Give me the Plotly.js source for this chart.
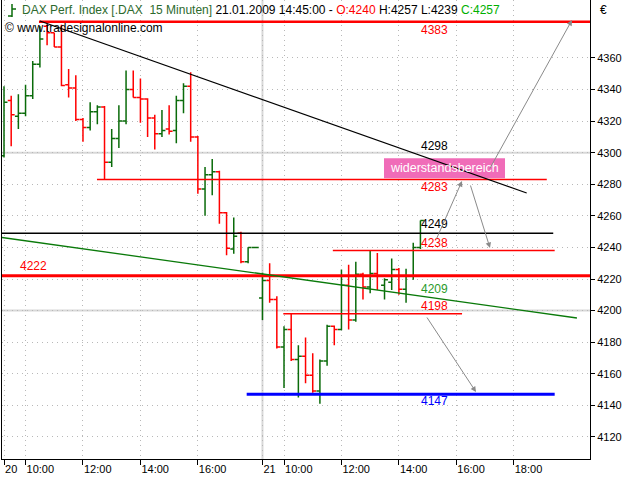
<!DOCTYPE html>
<html><head><meta charset="utf-8">
<script src="https://cdn.plot.ly/plotly-3.0.1.min.js"></script>
<style>html,body{margin:0;padding:0;background:#fff}#chart{width:640px;height:480px}</style>
</head><body><div id="chart"></div>
<script>
// ---- data (15-minute bars, 20.01.2009 09:15 ... 21.01.2009 14:45) ----
const openP  = [4298,4333,4323,4325,4336,4356,4380,4376,4367,4343,4341,4321,4316,4326,4329,4294,4309,4320,4340,4335,4334,4322,4312,4315,4314,4333,4342,4310,4277,4286,4288,4262,4239,4249,4231,4240,
                4208,4219,4207,4177,4188,4169,4171,4159,4149,4168,4190,4188,4216,4194,4223,4215,4223.5,4216,4218,4226,4213.5,4222,4240];
const highP  = [4342,4336,4337,4343,4358,4380,4381,4376,4381,4353,4349,4322,4332,4330,4329.5,4315,4330,4352,4352,4347,4334.5,4324,4327,4330,4336,4344,4351,4310.5,4291,4296,4288.5,4262.5,4259,4250,4240,4240,
                4224,4230,4209,4190,4198,4178,4183,4173,4169,4191,4190.5,4226,4229,4231,4224,4238,4236.5,4220.5,4233,4227,4226.5,4243,4257];
const lowP   = [4297,4304,4315,4323,4334,4354,4368,4367,4342,4335,4320,4307,4314,4318,4283,4291,4303,4318,4335,4319,4310,4302,4310,4311.5,4306,4325,4307,4274,4260,4273,4255,4235,4236,4230,4230,4240,
                4194,4205,4176,4151,4168,4145,4154,4148,4141,4165,4178,4187.5,4188,4193,4207,4211,4213,4207,4213,4210,4205,4219.5,4239];
const closeP = [4332,4324,4325,4336,4356,4372,4376,4367,4342.5,4341,4321,4316,4326,4329,4294,4309,4320,4340,4335,4334,4322,4312,4314,4313.5,4333,4342,4310,4277,4286,4288,4262,4239.5,4247,4231,4240,4240,
                4219,4207,4177,4188,4169,4171,4159,4149,4168,4190,4188,4216,4194,4223,4215,4223.5,4222,4219.5,4226,4213.5,4222,4240,4257];
const barIndex = openP.map((_, i) => i);

const tickVals = [0, 3, 11, 19, 27, 36, 39, 47, 55, 63, 71];
const tickText = ['20', '10:00', '12:00', '14:00', '16:00', '21', '10:00', '12:00', '14:00', '16:00', '18:00'];
const priceTicks = [4120, 4140, 4160, 4180, 4200, 4220, 4240, 4260, 4280, 4300, 4320, 4340, 4360];

// horizontal support / resistance levels
const levelPrice = [4383, 4283, 4249, 4238, 4222, 4198, 4147];
const levelColor = ['#ff0000', '#ff0000', '#000000', '#ff0000', '#ff0000', '#ff0000', '#0000ff'];
// trend lines (start / end price) and their label values
const blackTrend = [4383.4, 4274.5];
const greenTrend = [4246.3, 4195.3];
const trendLabels = ['4298', '4209'];
const boxText = 'widerstandsbereich';

// ---- layout helpers ----
const GREEN = '#0a6b0a', RED = '#ff0000';
const PL = 2, PR = 590, PT = 0, PB = 459;
const XR = [-0.28, 81.62], YR = [4106.0, 4396.7];
const px2k = x => XR[0] + (x - PL) / (PR - PL) * (XR[1] - XR[0]);
const py2v = y => YR[1] - (y - PT) / (PB - PT) * (YR[1] - YR[0]);
const px2p = x => (x - PL) / (PR - PL);
const py2p = y => 1 - (y - PT) / (PB - PT);
const FONT = 'Arial, "Liberation Sans", sans-serif';

const trace = {
  type: 'ohlc', x: barIndex, open: openP, high: highP, low: lowP, close: closeP,
  tickwidth: 0.48,
  increasing: {line: {color: GREEN, width: 1.5}},
  decreasing: {line: {color: RED, width: 1.5}},
  hoverinfo: 'skip'
};

// level extents in bar-index units
const levelSpan = [[4.87, XR[1]], [12.95, 75.6], [XR[0], 76.5], [45.8, 76.7], [XR[0], XR[1]], [38.9, 63.8], [33.8, 76.7]];
const levelWidth = [2.5, 1.5, 1.5, 1.5, 3, 1.5, 3];

const shapes = [];
// solid grid lines
[4200, 4300].forEach(v => shapes.push({type: 'line', xref: 'paper', yref: 'y', x0: 0, x1: 1, y0: v, y1: v, layer: 'below', line: {color: '#d8d8d8', width: 2}}));
shapes.push({type: 'line', xref: 'x', yref: 'paper', x0: 36, x1: 36, y0: 0, y1: 1, layer: 'below', line: {color: '#d8d8d8', width: 2}});
// pink box
shapes.push({type: 'rect', xref: 'x', yref: 'y', x0: px2k(384), x1: px2k(505), y0: py2v(178.3), y1: py2v(158.3), line: {width: 0}, fillcolor: '#f06cb8', layer: 'above'});
levelPrice.forEach((v, i) => shapes.push({type: 'line', xref: 'x', yref: 'y', x0: levelSpan[i][0], x1: levelSpan[i][1], y0: v, y1: v, layer: 'above', line: {color: levelColor[i], width: levelWidth[i]}}));
shapes.push({type: 'line', xref: 'x', yref: 'y', x0: 5.0, x1: 72.8, y0: blackTrend[0], y1: blackTrend[1], layer: 'above', line: {color: '#000', width: 1.2}});
shapes.push({type: 'line', xref: 'x', yref: 'y', x0: XR[0], x1: 79.8, y0: greenTrend[0], y1: greenTrend[1], layer: 'above', line: {color: '#0a7a0a', width: 1.3}});
// header OHLC glyph
shapes.push({type: 'line', xref: 'paper', yref: 'paper', x0: px2p(12), x1: px2p(12), y0: py2p(4), y1: py2p(17), line: {color: GREEN, width: 1.5}});
shapes.push({type: 'line', xref: 'paper', yref: 'paper', x0: px2p(8), x1: px2p(12), y0: py2p(16), y1: py2p(16), line: {color: GREEN, width: 1.5}});
shapes.push({type: 'line', xref: 'paper', yref: 'paper', x0: px2p(12), x1: px2p(16), y0: py2p(9), y1: py2p(9), line: {color: GREEN, width: 1.5}});

const annotations = [];
const lab = (text, x, y, color) => annotations.push({text, x, y, xref: 'x', yref: 'y', xanchor: 'left', yanchor: 'middle', showarrow: false, font: {family: FONT, size: 12, color}});
const LX = px2k(419);
lab(String(levelPrice[0]), LX, py2v(30), RED);
lab(trendLabels[0], LX, py2v(146), '#000');
lab(String(levelPrice[1]), LX, py2v(187), RED);
lab(String(levelPrice[2]), LX, py2v(224), '#000');
lab(String(levelPrice[3]), LX, py2v(243), RED);
lab(trendLabels[1], LX, py2v(289), '#2a9a2a');
lab(String(levelPrice[5]), LX, py2v(306), RED);
lab(String(levelPrice[6]), LX, py2v(401), '#0000ff');
lab(String(levelPrice[4]), px2k(18), py2v(266), RED);
annotations.push({text: boxText, x: px2k(444.5), y: py2v(168.3), xref: 'x', yref: 'y', showarrow: false, xanchor: 'center', yanchor: 'middle', font: {family: FONT, size: 12.5, color: '#fff'}});

// arrows (head, tail) in pixel positions converted to data
const arrows = [[462, 181, 436, 240], [490, 248, 470, 184], [572, 20, 489, 170], [476, 392, 426, 316]];
arrows.forEach(a => annotations.push({text: '', x: px2k(a[0]), y: py2v(a[1]), ax: px2k(a[2]), ay: py2v(a[3]), xref: 'x', yref: 'y', axref: 'x', ayref: 'y', showarrow: true, arrowhead: 2, arrowsize: 1.1, arrowwidth: 1, arrowcolor: '#8a8a8a', standoff: 0}));

const last = openP.length - 1;
const sp = '\u00a0';
const header = '<span style="color:#2d6a2d">DAX Perf. Index [.DAX' + sp + sp + '15 Minuten]</span> 21.01.2009 14:45:00 - ' +
  '<span style="color:#ff0000">O:' + openP[last] + '</span> H:' + highP[last] + ' L:' + lowP[last] +
  ' <span style="color:#00b000">C:' + closeP[last] + '</span>';
annotations.push({text: header, xref: 'paper', yref: 'paper', x: px2p(20), y: py2p(10), xanchor: 'left', yanchor: 'middle', showarrow: false, font: {family: FONT, size: 12, color: '#000'}});
annotations.push({text: '\u00a9 www.tradesignalonline.com', xref: 'paper', yref: 'paper', x: px2p(3), y: py2p(28), xanchor: 'left', yanchor: 'middle', showarrow: false, font: {family: FONT, size: 12, color: '#000'}});
annotations.push({text: '\u20ac', xref: 'paper', yref: 'paper', x: px2p(598), y: py2p(10), xanchor: 'left', yanchor: 'middle', showarrow: false, font: {family: FONT, size: 12, color: '#000'}});

const layout = {
  width: 640, height: 480,
  margin: {l: PL, r: 640 - PR, t: PT, b: 480 - PB, pad: 0},
  paper_bgcolor: '#fff', plot_bgcolor: '#fff', showlegend: false,
  xaxis: {range: XR, tickmode: 'array', tickvals: tickVals, ticktext: tickText, tickangle: 0, ticks: 'outside', ticklen: 5, tickcolor: '#000', tickwidth: 1,
          ticklabelposition: 'outside right', showgrid: true, gridcolor: '#b8b8b8', griddash: '1px,4px', gridwidth: 1, zeroline: false,
          showline: true, linecolor: '#000', linewidth: 1, mirror: true, rangeslider: {visible: false}, fixedrange: true,
          tickfont: {family: FONT, size: 11, color: '#000'}},
  yaxis: {range: YR, side: 'right', tickmode: 'array', tickvals: priceTicks, ticktext: priceTicks.map(String), ticks: 'outside', ticklen: 4, tickcolor: '#000', tickwidth: 1,
          showgrid: true, gridcolor: '#b8b8b8', griddash: '1px,4px', gridwidth: 1, zeroline: false,
          showline: true, linecolor: '#000', linewidth: 1, mirror: true, fixedrange: true,
          tickfont: {family: FONT, size: 11, color: '#000'}},
  shapes, annotations
};
Plotly.newPlot('chart', [trace], layout, {staticPlot: true, displayModeBar: false});
</script></body></html>
